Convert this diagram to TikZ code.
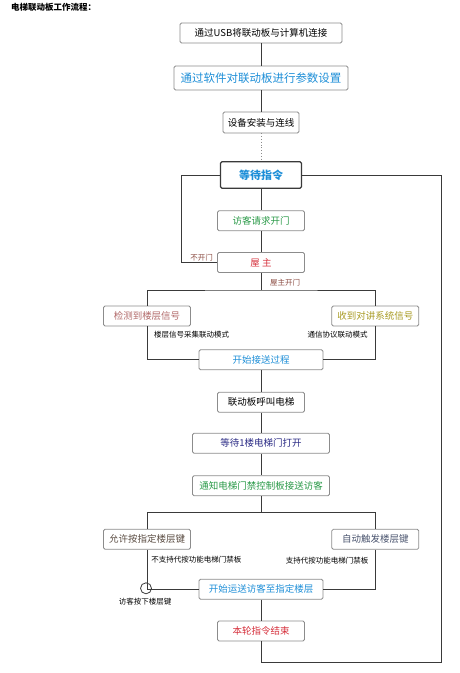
\documentclass[tikz,border=0pt]{standalone}
\usepackage{fontspec}
\setmainfont{Noto Sans CJK SC}
\usepackage{tikz}
\usetikzlibrary{positioning}

\definecolor{linegray}{HTML}{3A3A3A}
\definecolor{boxgray}{HTML}{8C8C8C}
\definecolor{flowblue}{HTML}{1E8FD8}
\definecolor{flowgreen}{HTML}{2A9A48}
\definecolor{flowred}{HTML}{D6303C}
\definecolor{flowrose}{HTML}{B26A6A}
\definecolor{flowolive}{HTML}{A89A22}
\definecolor{flownavy}{HTML}{2C2C86}
\definecolor{flowbrown}{HTML}{5C4E44}
\definecolor{flowslate}{HTML}{4C5670}
\definecolor{notebrown}{HTML}{8A4A40}

\begin{document}
\begin{tikzpicture}[
    x=1pt, y=-1pt,
    box/.style={draw=boxgray, line width=0.8pt, rounded corners=1.5pt,
        fill=white, minimum height=20pt, inner sep=0pt,
        font=\fontsize{9.5}{11}\selectfont},
    note/.style={inner sep=0pt, font=\fontsize{7.5}{9}\selectfont},
    wire/.style={draw=linegray, line width=0.9pt}
]
    \useasboundingbox (0,0) rectangle (460,673);

    % Title
    \node [anchor=west, inner sep=0pt, font=\fontsize{8.5}{10}\selectfont\bfseries]
        (title) at (11,7) {电梯联动板工作流程：};

    % Setup
    \node [box, minimum width=162pt] (usb) at (261,33) {通过USB将联动板与计算机连接};
    \node [box, minimum width=174pt, minimum height=24pt, text=flowblue,
        font=\fontsize{11.5}{14}\selectfont] (param) at (261,78) {通过软件对联动板进行参数设置};
    \node [box, minimum width=76pt, minimum height=21pt] (install) at (261,122.5) {设备安装与连线};

    % Command loop
    \node [box, draw=linegray, line width=1.1pt, minimum width=81pt, minimum height=26.5pt,
        text=flowblue, font=\fontsize{11}{13}\selectfont\bfseries] (wait) at (261,175) {等待指令};
    \node [box, minimum width=87pt, text=flowgreen] (visitor) at (261,220.7) {访客请求开门};
    \node [box, minimum width=87pt, text=flowred] (owner) at (261,262.5) {屋\ 主};

    % Signal sources
    \node [box, minimum width=87pt, text=flowrose] (floorsig) at (147,316) {检测到楼层信号};
    \node [box, minimum width=87pt, text=flowolive] (intercom) at (375.3,316) {收到对讲系统信号};
    \node [box, minimum width=124pt, text=flowblue] (start) at (261,359.7) {开始接送过程};

    % Elevator
    \node [box, minimum width=87pt] (call) at (261,402.3) {联动板呼叫电梯};
    \node [box, minimum width=137pt, text=flownavy] (waitone) at (261,443.3) {等待1楼电梯门打开};
    \node [box, minimum width=137pt, text=flowgreen] (notify) at (261,485.7) {通知电梯门禁控制板接送访客};

    % Floor keys
    \node [box, minimum width=87pt, text=flowbrown] (allow) at (147,539.3) {允许按指定楼层键};
    \node [box, minimum width=87pt, text=flowslate] (auto) at (375.3,539.3) {自动触发楼层键};
    \node [box, minimum width=124pt, text=flowblue] (deliver) at (261,589.3) {开始运送访客至指定楼层};
    \node [box, minimum width=87pt, text=flowred] (finish) at (261,631) {本轮指令结束};

    % Corner points
    \coordinate (refuse) at (181.7,175);
    \coordinate (split1) at (261,290);
    \coordinate (split2) at (261,512.7);
    \coordinate (back) at (441.7,662.7);

    % Connectors
    \draw[wire] (usb) -- (param);
    \draw[wire] (param) -- (install);
    \draw[wire, draw=boxgray, line width=0.8pt, dotted] (install) -- (wait);
    \draw[wire] (wait) -- (visitor);
    \draw[wire] (visitor) -- (owner);
    \draw[wire] (wait.west) -- (refuse) |- (owner.west);
    \draw[wire] (owner) -- (split1);
    \draw[wire] (floorsig.north) |- (split1) -| (intercom.north);
    \draw[wire] (floorsig.south) |- (start.west);
    \draw[wire] (intercom.south) |- (start.east);
    \draw[wire] (start) -- (call);
    \draw[wire] (call) -- (waitone);
    \draw[wire] (waitone) -- (notify);
    \draw[wire] (notify) -- (split2);
    \draw[wire] (allow.north) |- (split2) -| (auto.north);
    \draw[wire] (allow.south) |- (deliver.west);
    \draw[wire] (auto.south) |- (deliver.east);
    \draw[wire] (deliver) -- (finish);
    \draw[wire] (finish.south) |- (back) |- (wait.east);

    % Key press marker
    \node [draw=linegray, line width=0.8pt, circle, minimum size=11pt, inner sep=0pt]
        (press) at (146,588.3) {};

    % Notes
    \node [note, text=notebrown] (nodoor) at (201.7,257.5) {不开门};
    \node [note, text=notebrown] (opendoor) at (285,282.3) {屋主开门};
    \node [note] (floormode) at (191.7,334.3) {楼层信号采集联动模式};
    \node [note] (protomode) at (337.5,334.3) {通信协议联动模式};
    \node [note] (nosupport) at (196.3,560) {不支持代按功能电梯门禁板};
    \node [note] (support) at (327,560.7) {支持代按功能电梯门禁板};
    \node [note] (presskey) at (145,601.7) {访客按下楼层键};

\end{tikzpicture}
\end{document}
